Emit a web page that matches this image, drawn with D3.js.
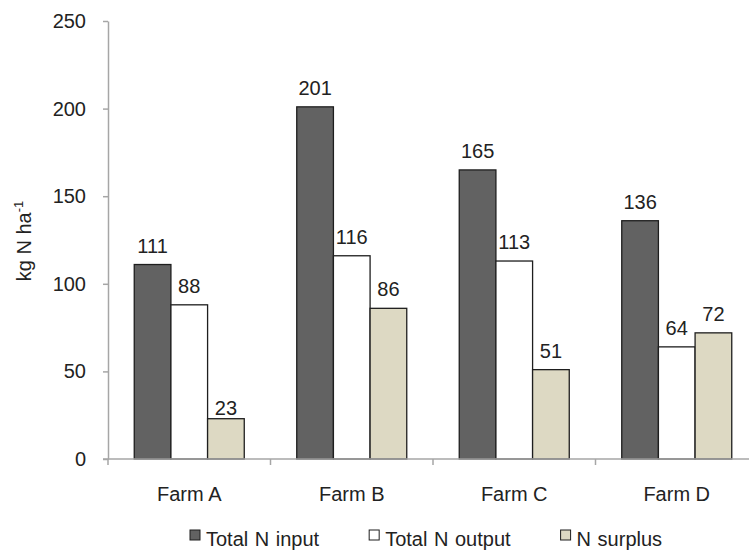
<!DOCTYPE html>
<html>
<head>
<meta charset="utf-8">
<script src="https://cdn.jsdelivr.net/npm/d3@7"></script>
<style>
  html, body { margin: 0; padding: 0; background: #fff; }
  svg { display: block; font-family: "Liberation Sans", Arial, sans-serif; }
</style>
</head>
<body>
<svg id="chart" width="749" height="551"></svg>
<script>
// Nitrogen balance per farm (kg N per hectare)
const farms = ["Farm A", "Farm B", "Farm C", "Farm D"];
const seriesNames = ["Total N input", "Total N output", "N surplus"];
const totalInput = [111, 201, 165, 136];
const totalOutput = [88, 116, 113, 64];
const surplus = [23, 86, 51, 72];
const yTicks = [0, 50, 100, 150, 200, 250];

const seriesValues = [totalInput, totalOutput, surplus];
const fills = ["#626262", "#ffffff", "#ddd9c3"];
const textColor = "#222";
const axisColor = "#a6a6a6";
const fontSize = 20;

const svg = d3.select("#chart");
const W = 749, H = 551;
svg.append("rect").attr("width", W).attr("height", H).attr("fill", "#fff");

const plotLeft = 108, plotRight = 758, plotTop = 21, plotBottom = 459;

const y = d3.scaleLinear().domain([0, 250]).range([plotBottom, plotTop]);
const x0 = d3.scaleBand().domain(farms).range([plotLeft, plotRight])
  .paddingInner(0.323).paddingOuter(0.1615);
const x1 = d3.scaleBand().domain(seriesNames).range([0, x0.bandwidth()]);

// Bars
const rows = farms.map((f, i) => ({
  farm: f,
  items: seriesNames.map((s, j) => ({ series: s, idx: j, value: seriesValues[j][i] }))
}));

const groups = svg.append("g").selectAll("g").data(rows).join("g")
  .attr("transform", d => `translate(${x0(d.farm)},0)`);

groups.selectAll("rect").data(d => d.items).join("rect")
  .attr("x", d => x1(d.series))
  .attr("y", d => y(d.value))
  .attr("width", x1.bandwidth())
  .attr("height", d => y(0) - y(d.value))
  .attr("fill", d => fills[d.idx])
  .attr("stroke", "#1e1e1e")
  .attr("stroke-width", 1.3);

// Value labels above bars; very short bars keep their label closer
const labelLift = d => (d.value < 30 ? 4 : 12);
groups.selectAll("text").data(d => d.items).join("text")
  .attr("x", d => x1(d.series) + x1.bandwidth() / 2)
  .attr("y", d => y(d.value) - labelLift(d))
  .attr("text-anchor", "middle")
  .attr("font-size", fontSize)
  .attr("fill", textColor)
  .text(d => d.value);

// Y axis
const yAxis = svg.append("g")
  .attr("transform", `translate(${plotLeft},0)`)
  .call(d3.axisLeft(y).tickValues(yTicks).tickSize(5).tickSizeOuter(0).tickPadding(17));
yAxis.select(".domain").attr("stroke", axisColor).attr("stroke-width", 1.5);
yAxis.selectAll(".tick line").attr("stroke", axisColor).attr("stroke-width", 1.5);
yAxis.selectAll(".tick text")
  .attr("font-size", fontSize).attr("fill", textColor)
  .attr("font-family", "Liberation Sans, Arial, sans-serif");

// X axis: baseline with ticks at category boundaries
const xAxis = svg.append("g");
xAxis.append("line")
  .attr("x1", plotLeft - 5).attr("x2", plotRight)
  .attr("y1", plotBottom).attr("y2", plotBottom)
  .attr("stroke", axisColor).attr("stroke-width", 1.5);
const boundaries = d3.range(farms.length + 1).map(i => plotLeft + i * x0.step());
xAxis.selectAll("line.b").data(boundaries).join("line")
  .attr("class", "b")
  .attr("x1", d => d).attr("x2", d => d)
  .attr("y1", plotBottom).attr("y2", plotBottom + 6)
  .attr("stroke", axisColor).attr("stroke-width", 1.5);
xAxis.selectAll("text").data(farms).join("text")
  .attr("x", d => x0(d) + x0.bandwidth() / 2)
  .attr("y", 501)
  .attr("text-anchor", "middle")
  .attr("font-size", fontSize)
  .attr("fill", textColor)
  .text(d => d);

// Y axis title
const yTitle = svg.append("text")
  .attr("transform", "translate(31,241) rotate(-90)")
  .attr("text-anchor", "middle")
  .attr("font-size", fontSize)
  .attr("fill", textColor);
yTitle.append("tspan").text("kg N ha");
yTitle.append("tspan").attr("font-size", 13).attr("dy", -8).text("-1");

// Legend, laid out left to right from measured label widths
const legend = svg.append("g");
const legendItems = legend.selectAll("g").data(seriesNames).join("g");
legendItems.append("rect")
  .attr("width", 10).attr("height", 10)
  .attr("y", 530)
  .attr("fill", (d, i) => fills[i])
  .attr("stroke", "#1e1e1e").attr("stroke-width", 1);
legendItems.append("text")
  .attr("x", 16).attr("y", 546)
  .attr("font-size", fontSize)
  .attr("word-spacing", 1)
  .attr("fill", textColor)
  .text(d => d);
const widths = [];
legendItems.each(function () {
  widths.push(16 + d3.select(this).select("text").node().getComputedTextLength());
});
const spacing = 50;
const start = 190;
legendItems.attr("transform", (d, i) => {
  const tx = start + d3.sum(widths.slice(0, i)) + spacing * i;
  return `translate(${tx},0)`;
});
</script>
</body>
</html>
